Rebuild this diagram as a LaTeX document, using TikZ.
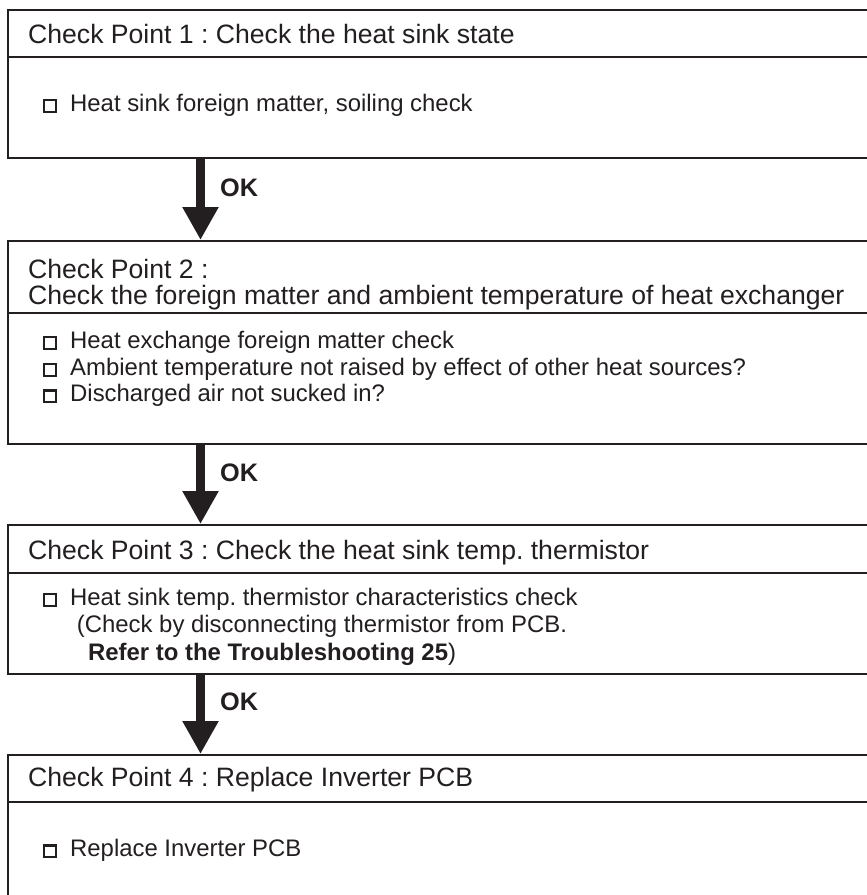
\documentclass[tikz,border=0pt]{standalone}
\usepackage{fontspec}
\setmainfont{Liberation Sans}
\usetikzlibrary{arrows.meta,calc}
\definecolor{ink}{HTML}{231F20}
\frenchspacing
\newcommand{\cbx}{\raisebox{0.5pt}{\setlength{\fboxrule}{2.2pt}\setlength{\fboxsep}{0pt}\fbox{\rule{0pt}{9.6pt}\rule{9.6pt}{0pt}}}\hspace{13pt}}
\begin{document}
\begin{tikzpicture}[x=1pt,y=-1pt,
  box/.style={draw=ink, line width=1.8pt, anchor=north west, minimum width=900pt, inner sep=0pt},
  divider/.style={draw=ink, line width=1.8pt},
  hd/.style={anchor=base west, inner sep=0pt, text=ink, font=\fontsize{26.6}{30}\selectfont},
  item/.style={anchor=base west, inner sep=0pt, text=ink, font=\fontsize{23.9}{28}\selectfont},
  oklabel/.style={anchor=base west, inner sep=0pt, text=ink, font=\fontsize{25.3}{29}\selectfont\bfseries},
  flow/.style={draw=ink, line width=9pt, -{Triangle[width=34pt,length=33pt]}, ink}]
\clip (0,0) rectangle (867,895);
\fill[white] (0,0) rectangle (867,895);
% boxes
\node[box, minimum height=148pt] (b1) at (7,9) {};
\node[box, minimum height=203pt] (b2) at (7,240) {};
\node[box, minimum height=149pt] (b3) at (7,524) {};
\node[box, minimum height=180pt] (b4) at (7,754) {};
% header dividers
\draw[divider] ($(b1.north west)+(0,48)$) -- ($(b1.north east)+(0,48)$);
\draw[divider] ($(b2.north west)+(0,73)$) -- ($(b2.north east)+(0,73)$);
\draw[divider] ($(b3.north west)+(0,49)$) -- ($(b3.north east)+(0,49)$);
\draw[divider] ($(b4.north west)+(0,48)$) -- ($(b4.north east)+(0,48)$);
% box 1
\node[hd] (h1) at (28,43) {Check Point 1 : Check the heat sink state};
\node[item] (i11) at (43,111.5) {\cbx Heat sink foreign matter, soiling check};
% box 2
\node[hd] (h2a) at (28,278.3) {Check Point 2 :};
\node[hd] (h2b) at (28,304.5) {Check the foreign matter and ambient temperature of heat exchanger};
\node[item] (i21) at (43,348.3) {\cbx Heat exchange foreign matter check};
\node[item] (i22) at (43,375) {\cbx Ambient temperature not raised by effect of other heat sources?};
\node[item] (i23) at (43,401.7) {\cbx Discharged air not sucked in?};
% box 3
\node[hd] (h3) at (28,559) {Check Point 3 : Check the heat sink temp. thermistor};
\node[item] (i31) at (43,605) {\cbx Heat sink temp. thermistor characteristics check};
\node[item] (i32) at (76.7,632.7) {(Check by disconnecting thermistor from PCB.};
\node[item] (i33) at (88,660) {\textbf{Refer to the Troubleshooting 25})};
% box 4
\node[hd] (h4) at (28,786.7) {Check Point 4 : Replace Inverter PCB};
\node[item] (i41) at (43,856.7) {\cbx Replace Inverter PCB};
% arrows
\draw[flow] ($(b1.south west)+(193.5,0)$) -- ($(b2.north west)+(193.5,0)$);
\draw[flow] ($(b2.south west)+(193.5,0)$) -- ($(b3.north west)+(193.5,0)$);
\draw[flow] ($(b3.south west)+(193.5,0)$) -- ($(b4.north west)+(193.5,0)$);
\node[oklabel] (ok1) at (220,196.7) {OK};
\node[oklabel] (ok2) at (220,481.7) {OK};
\node[oklabel] (ok3) at (220,710) {OK};
\end{tikzpicture}
\end{document}
